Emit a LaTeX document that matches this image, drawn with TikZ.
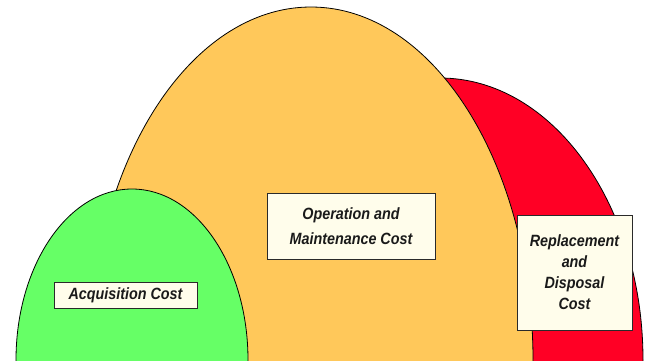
\documentclass[tikz,border=0pt]{standalone}
\usepackage{fontspec}
\setmainfont{Liberation Sans}
\newfontfamily\boxfont[FakeStretch=0.88]{Liberation Sans}
\definecolor{greenarch}{HTML}{66FF66}
\definecolor{orangearch}{HTML}{FFC85A}
\definecolor{redarch}{HTML}{FF0025}
\definecolor{boxfill}{HTML}{FFFDEB}
\definecolor{boxline}{HTML}{2A2A2A}
\definecolor{txt}{HTML}{1A1A1A}
\begin{document}
\begin{tikzpicture}[x=1pt,y=-1pt,
  arch/.style={draw=black,line width=0.8pt},
  costbox/.style={draw=boxline,line width=1pt,fill=boxfill,inner sep=0pt,align=center,text=txt,
    font=\boxfont\fontsize{16.3}{21}\selectfont\bfseries\itshape}]
\useasboundingbox (0,0) rectangle (649,360);
\clip (0,0) rectangle (649,360);
\fill[white] (0,0) rectangle (649,360);
\filldraw[arch,fill=redarch] (440,360) ellipse [x radius=203, y radius=282];
\filldraw[arch,fill=orangearch] (311,360) ellipse [x radius=222, y radius=353];
\filldraw[arch,fill=greenarch] (132,360) ellipse [x radius=116, y radius=171];
\node[costbox,minimum width=143pt,minimum height=26pt] (acq) at (125.5,295) {Acquisition Cost};
\node[costbox,minimum width=168pt,minimum height=66pt,font=\boxfont\fontsize{16.3}{24.5}\selectfont\bfseries\itshape] (om) at (351,226) {Operation and\\Maintenance Cost};
\node[costbox,minimum width=115pt,minimum height=115pt] (rd) at (574.5,272.5) {Replacement\\and\\Disposal\\Cost};
\end{tikzpicture}
\end{document}
